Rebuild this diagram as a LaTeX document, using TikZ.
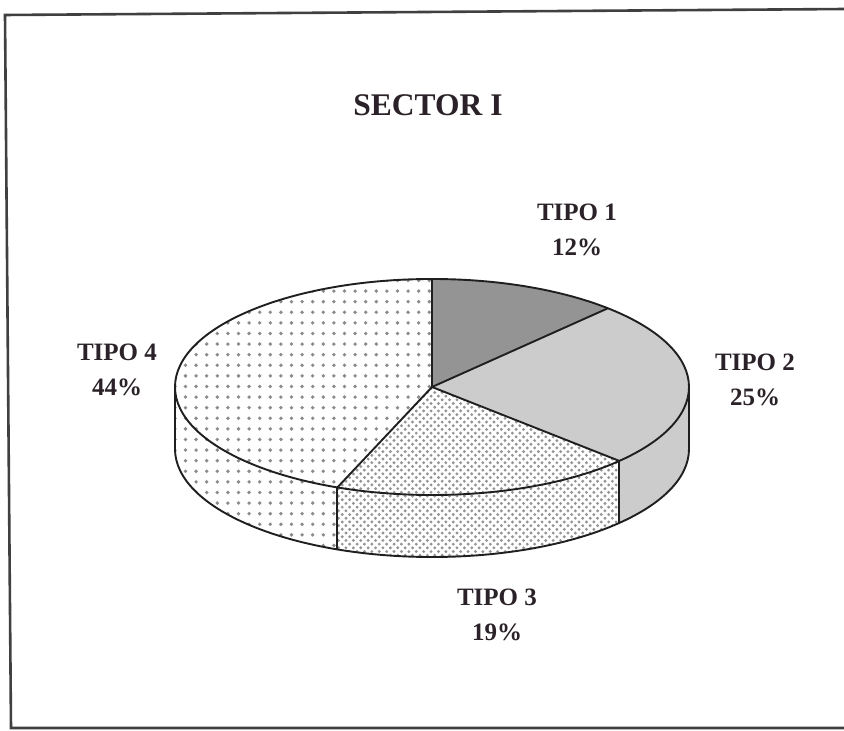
\documentclass[tikz,border=0pt]{standalone}
\usepackage{fontspec}
\setmainfont{Liberation Serif}
\usetikzlibrary{calc,patterns}
\definecolor{ink}{RGB}{42,34,40}
\pgfdeclarepatternformonly{sparsedots}{\pgfpoint{-1pt}{-1pt}}{\pgfpoint{11.6pt}{11.6pt}}{\pgfpoint{10.6pt}{10.6pt}}{%
  \pgfpathcircle{\pgfpoint{5.3pt}{5.3pt}}{1.9pt}\pgfusepath{fill}}
\pgfdeclarepatternformonly{densedots}{\pgfpoint{-1pt}{-1pt}}{\pgfpoint{8.4pt}{8.4pt}}{\pgfpoint{7.4pt}{7.4pt}}{%
  \pgfpathcircle{\pgfpoint{1.85pt}{1.85pt}}{1.6pt}\pgfusepath{fill}%
  \pgfpathcircle{\pgfpoint{5.55pt}{5.55pt}}{1.6pt}\pgfusepath{fill}}
\tikzset{
  edge/.style={draw=black!88, line width=1.9pt, line join=round},
  t1/.style={fill=black!42},
  t2/.style={fill=black!20},
  t3/.style={preaction={fill=white}, pattern=densedots, pattern color=black!42},
  t4/.style={preaction={fill=white}, pattern=sparsedots, pattern color=black!45},
  lab/.style={text=ink, align=center, font=\fontsize{25}{35}\selectfont\bfseries},
  ttl/.style={text=ink, font=\fontsize{31.5}{36}\selectfont\bfseries},
  ell/.style={x radius=257pt, y radius=108pt}
}
\begin{document}
\begin{tikzpicture}[x=1pt,y=1pt]
\useasboundingbox (0,0) rectangle (844,731);
\fill[white] (0,0) rectangle (844,731);
% frame
\draw[line width=2.6pt, draw=black!75] (846,722) -- (5,716) -- (11,3) -- (846,3);
\coordinate (C) at (432,344);
\coordinate (D) at (432,282);
% side faces
\path[t4] ($(C)+(180:257pt and 108pt)$) arc[ell, start angle=180, end angle=248.4]
  -- ++(0,-62) arc[ell, start angle=248.4, end angle=180] -- cycle;
\path[t3] ($(C)+(248.4:257pt and 108pt)$) arc[ell, start angle=248.4, end angle=316.8]
  -- ++(0,-62) arc[ell, start angle=316.8, end angle=248.4] -- cycle;
\path[t2] ($(C)+(316.8:257pt and 108pt)$) arc[ell, start angle=316.8, end angle=360]
  -- ++(0,-62) arc[ell, start angle=360, end angle=316.8] -- cycle;
% top slices
\path[t1] (C) -- ($(C)+(90:257pt and 108pt)$) arc[ell, start angle=90, end angle=46.8] -- cycle;
\path[t2] (C) -- ($(C)+(46.8:257pt and 108pt)$) arc[ell, start angle=46.8, end angle=-43.2] -- cycle;
\path[t3] (C) -- ($(C)+(-43.2:257pt and 108pt)$) arc[ell, start angle=-43.2, end angle=-111.6] -- cycle;
\path[t4] (C) -- ($(C)+(-111.6:257pt and 108pt)$) arc[ell, start angle=-111.6, end angle=-270] -- cycle;
% outlines
\draw[edge] (C) ellipse[ell];
\draw[edge] ($(D)+(180:257pt and 108pt)$) arc[ell, start angle=180, end angle=360];
\foreach \a in {180,248.4,316.8,360}{
  \draw[edge] ($(C)+(\a:257pt and 108pt)$) -- ($(D)+(\a:257pt and 108pt)$);
}
\foreach \a in {90,46.8,-43.2,-111.6}{
  \draw[edge] (C) -- ($(C)+(\a:257pt and 108pt)$);
}
% labels
\node[ttl] (title) at (428,626) {SECTOR I};
\node[lab] (l1) at (577,501) {TIPO 1\\12\%};
\node[lab] (l2) at (755,351) {TIPO 2\\25\%};
\node[lab] (l3) at (497,116) {TIPO 3\\19\%};
\node[lab] (l4) at (117,361) {TIPO 4\\44\%};
\end{tikzpicture}
\end{document}
